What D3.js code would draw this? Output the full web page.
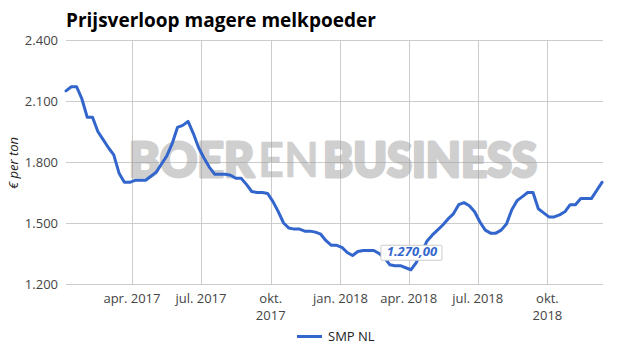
<!DOCTYPE html>
<html><head><meta charset="utf-8">
<script src="https://cdn.jsdelivr.net/npm/d3@7"></script>
<style>
html,body{margin:0;padding:0;background:#fff;}
svg{display:block;font-family:"Open Sans",sans-serif;}
</style></head>
<body><svg id="c" width="625" height="355"></svg>
<script>
// ---- data ----
const title = "Prijsverloop magere melkpoeder";
const seriesName = "SMP NL";
const yAxisTitle = "€ per ton";
const startDate = "2017-01-04"; // weekly quotations
const values = [
  2150,2170,2170,2110,2020,2020,1950,1910,1870,1835,
  1745,1700,1700,1710,1710,1710,1730,1750,1790,1830,
  1890,1970,1980,2000,1940,1870,1820,1775,1740,1740,
  1740,1735,1720,1720,1690,1655,1650,1650,1645,1605,
  1556,1500,1475,1470,1470,1460,1460,1455,1445,1413,
  1390,1390,1380,1355,1340,1360,1365,1365,1365,1350,
  1330,1295,1290,1290,1280,1270,1305,1357,1410,1440,
  1465,1490,1520,1545,1590,1600,1585,1555,1505,1465,
  1450,1450,1465,1495,1565,1610,1630,1650,1650,1570,
  1550,1530,1530,1540,1555,1590,1590,1620,1620,1620,
  1660,1700
];
const yTicks = [1200,1500,1800,2100,2400];
const xTickDates = ["2017-04-01","2017-07-01","2017-10-01","2018-01-01","2018-04-01","2018-07-01","2018-10-01"];
const xTickLabels = [["apr. 2017"],["jul. 2017"],["okt.","2017"],["jan. 2018"],["apr. 2018"],["jul. 2018"],["okt.","2018"]];
const annotatedIndex = 65; // minimum, 1.270,00

// ---- setup ----
const parse = d3.utcParse("%Y-%m-%d");
const t0 = parse(startDate);
const data = values.map((v,i)=>({date:d3.utcDay.offset(t0,i*7), value:v}));
const nl = d3.formatLocale({decimal:",",thousands:".",grouping:[3],currency:["€ ",""]});
const fmtTick = nl.format(",.0f");
const fmtVal = nl.format(",.2f");

const svg = d3.select("#c");
const L=66, R=603, T=40, B=284;
const x = d3.scaleUtc().domain([data[0].date, data[data.length-1].date]).range([L, 602]);
const y = d3.scaleLinear().domain([1200,2400]).range([B, T]);
const blue = "#3366cc";

// title
svg.append("text").attr("x",66).attr("y",27)
  .attr("font-size",19).attr("font-weight","bold").attr("fill","#000")
  .text(title);

// grid
const g = svg.append("g");
g.selectAll("line.h").data(yTicks).join("line")
  .attr("x1",L).attr("x2",R).attr("y1",d=>Math.round(y(d))+0.5).attr("y2",d=>Math.round(y(d))+0.5)
  .attr("stroke","#cccccc").attr("stroke-width",1);
g.selectAll("line.v").data(xTickDates).join("line")
  .attr("y1",T).attr("y2",B)
  .attr("x1",d=>Math.round(x(parse(d)))+0.5).attr("x2",d=>Math.round(x(parse(d)))+0.5)
  .attr("stroke","#cccccc").attr("stroke-width",1);

// y labels
svg.selectAll("text.yl").data(yTicks).join("text")
  .attr("x",58).attr("y",d=>y(d)).attr("dy","0.36em")
  .attr("text-anchor","end").attr("font-size",13).attr("fill","#444")
  .text(d=>fmtTick(d));

// x labels
const xl = svg.selectAll("text.xl").data(xTickDates).join("text")
  .attr("text-anchor","middle").attr("font-size",13).attr("fill","#444");
xl.each(function(d,i){
  const el = d3.select(this);
  xTickLabels[i].forEach((s,j)=>{
    el.append("tspan").attr("x",x(parse(d))).attr("y",303+j*17).text(s);
  });
});

// y axis title
svg.append("text").attr("transform","translate(18,163) rotate(-90)")
  .attr("text-anchor","middle").attr("font-size",13).attr("font-style","italic").attr("fill","#222")
  .text(yAxisTitle);

// watermark
const wm = svg.append("g").attr("fill","#9a9a9a").attr("stroke","#9a9a9a").attr("stroke-linejoin","round")
  .attr("opacity",0.47).attr("font-family","Lato, 'Open Sans', sans-serif").attr("font-size",47);
wm.append("text").attr("x",129).attr("y",176.5).attr("font-weight","900").attr("stroke-width",3).attr("textLength",125).attr("lengthAdjust","spacingAndGlyphs").text("BOER");
wm.append("text").attr("x",258).attr("y",176.5).attr("font-weight","bold").attr("stroke-width",0.5).attr("textLength",61).attr("lengthAdjust","spacingAndGlyphs").text("EN");
wm.append("text").attr("x",323).attr("y",176.5).attr("font-weight","900").attr("stroke-width",3).attr("textLength",214).attr("lengthAdjust","spacingAndGlyphs").text("BUSINESS");

// line
const line = d3.line().x(d=>x(d.date)).y(d=>y(d.value));
svg.append("path").datum(data).attr("d",line)
  .attr("fill","none").attr("stroke",blue).attr("stroke-width",3)
  .attr("stroke-linejoin","round").attr("stroke-linecap","round");

// annotation
const a = data[annotatedIndex];
const ax = x(a.date), ay = y(a.value);
const ann = svg.append("g");
const bw=61, bh=15;
ann.append("rect").attr("x",ax-bw/2+0.5).attr("y",ay-25+0.5).attr("width",bw).attr("height",bh)
  .attr("fill","#fff").attr("stroke","#cccccc").attr("stroke-width",1).attr("rx",1);
ann.append("text").attr("x",ax+1).attr("y",ay-13.5).attr("text-anchor","middle")
  .attr("font-size",13).attr("font-style","italic").attr("font-weight","bold").attr("fill",blue)
  .text(fmtVal(a.value));

// legend
svg.append("line").attr("x1",297).attr("x2",322).attr("y1",336.5).attr("y2",336.5)
  .attr("stroke",blue).attr("stroke-width",3);
svg.append("text").attr("x",328).attr("y",341).attr("font-size",13).attr("fill","#222").text(seriesName);
</script>
</body></html>
